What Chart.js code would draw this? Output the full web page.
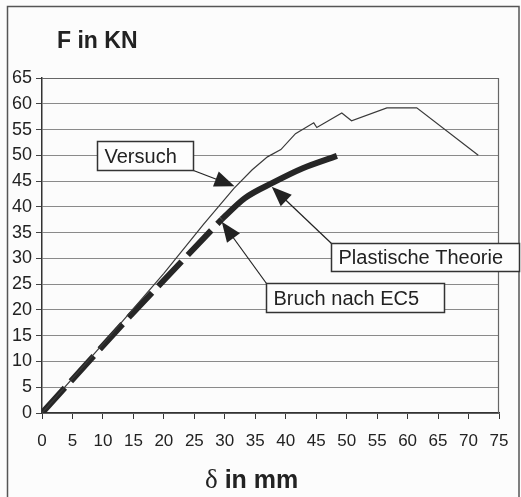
<!DOCTYPE html>
<html lang="de">
  <head>
    <meta charset="UTF-8" />
    <title>F in KN / δ in mm</title>
    <script src="https://cdn.jsdelivr.net/npm/chart.js@4/dist/chart.umd.min.js"></script>
    <style>
      html, body { margin: 0; padding: 0; background: #fcfcfc; }
      #wrap { width: 521px; height: 497px; }
    </style>
  </head>
  <body>
    <div id="wrap"><canvas id="chart" width="521" height="497"></canvas></div>

    <script>
      // Versuch (test curve), thin line
      const versuchX = [0, 10, 20, 26.5, 31.5, 34.5, 37, 39.2, 41.6, 44.6, 45.1, 49.2, 50.8, 56.6, 61.5, 71.6];
      const versuchY = [0, 13.4, 27.1, 36.6, 43.6, 47.2, 49.7, 51.1, 54.2, 56.3, 55.4, 58.2, 56.7, 59.2, 59.2, 50];

      // Plastische Theorie, thick line
      const plastX = [29.5, 33.3, 37.9, 42.8, 48.4];
      const plastY = [37.6, 41.7, 44.7, 47.5, 49.9];

      // Bruch nach EC5, thick dashed line
      const ec5X = [0, 14.5, 29.5];
      const ec5Y = [0, 18.9, 37.6];

      const xTicks = [0, 5, 10, 15, 20, 25, 30, 35, 40, 45, 50, 55, 60, 65, 70, 75];
      const yTicks = [0, 5, 10, 15, 20, 25, 30, 35, 40, 45, 50, 55, 60, 65];

      // text boxes: anchor (box top-left) and arrow tip in data units
      const labels = [
        { text: 'Versuch', box: [9.1, 52.8], w: 96, h: 29, from: 'br', tip: [31.6, 44.0] },
        { text: 'Plastische Theorie', box: [47.4, 33.0], w: 188, h: 28, from: 'tl', tip: [37.7, 43.9] },
        { text: 'Bruch nach EC5', box: [36.8, 25.2], w: 178, h: 29, from: 'tl', tip: [29.5, 37.1] }
      ];

      function pts(xs, ys) {
        return xs.map((x, i) => ({ x: x, y: ys[i] }));
      }

      const SANS = '"Liberation Sans", Arial, sans-serif';

      function arrow(ctx, x0, y0, x1, y1) {
        const a = Math.atan2(y1 - y0, x1 - x0);
        const len = 20, half = 8;
        ctx.beginPath();
        ctx.moveTo(x0, y0);
        ctx.lineTo(x1 - Math.cos(a) * len * 0.8, y1 - Math.sin(a) * len * 0.8);
        ctx.stroke();
        ctx.beginPath();
        ctx.moveTo(x1, y1);
        ctx.lineTo(x1 - Math.cos(a) * len + Math.sin(a) * half, y1 - Math.sin(a) * len - Math.cos(a) * half);
        ctx.lineTo(x1 - Math.cos(a) * len - Math.sin(a) * half, y1 - Math.sin(a) * len + Math.cos(a) * half);
        ctx.closePath();
        ctx.fill();
      }

      const decorations = {
        id: 'decorations',
        beforeDraw(chart) {
          const ctx = chart.ctx;
          ctx.save();
          ctx.fillStyle = '#fcfcfc';
          ctx.fillRect(0, 0, chart.width, chart.height);
          // outer frame
          ctx.strokeStyle = '#555';
          ctx.lineWidth = 1.5;
          ctx.beginPath();
          ctx.moveTo(7.5, 497);
          ctx.lineTo(7.5, 6.5);
          ctx.lineTo(519, 6.5);
          ctx.lineTo(519, 497);
          ctx.stroke();
          ctx.restore();
        },
        beforeDatasetsDraw(chart) {
          const ctx = chart.ctx, a = chart.chartArea;
          ctx.save();
          ctx.strokeStyle = '#666';
          ctx.lineWidth = 1.2;
          ctx.beginPath();
          ctx.moveTo(a.left, a.top + 0.5);
          ctx.lineTo(a.right - 0.5, a.top + 0.5);
          ctx.lineTo(a.right - 0.5, a.bottom);
          ctx.stroke();
          ctx.restore();
        },
        afterDraw(chart) {
          const ctx = chart.ctx;
          const xs = chart.scales.x, ys = chart.scales.y;
          ctx.save();
          // axis titles
          ctx.fillStyle = '#222';
          ctx.textBaseline = 'alphabetic';
          ctx.textAlign = 'left';
          ctx.font = 'bold 23px ' + SANS;
          ctx.fillText('F in KN', 57, 48);
          ctx.font = '27px "Liberation Serif", "DejaVu Serif", serif';
          ctx.fillText('δ', 205, 488);
          const dw = ctx.measureText('δ').width;
          ctx.font = 'bold 25px ' + SANS;
          ctx.fillText(' in mm', 205 + dw, 488);

          // labelled boxes with arrows
          labels.forEach(l => {
            const bx = Math.round(xs.getPixelForValue(l.box[0])) + 0.5;
            const by = Math.round(ys.getPixelForValue(l.box[1])) + 0.5;
            const tx = xs.getPixelForValue(l.tip[0]);
            const ty = ys.getPixelForValue(l.tip[1]);
            const sx = l.from === 'br' ? bx + l.w : bx;
            const sy = l.from === 'br' ? by + l.h : by;
            ctx.strokeStyle = '#222';
            ctx.fillStyle = '#222';
            ctx.lineWidth = 1.2;
            arrow(ctx, sx, sy, tx, ty);
            ctx.fillStyle = '#fdfdfd';
            ctx.fillRect(bx, by, l.w, l.h);
            ctx.lineWidth = 1.5;
            ctx.strokeStyle = '#333';
            ctx.strokeRect(bx, by, l.w, l.h);
            ctx.fillStyle = '#222';
            ctx.font = '20px ' + SANS;
            ctx.textAlign = 'left';
            ctx.textBaseline = 'middle';
            ctx.fillText(l.text, bx + 7, by + l.h / 2 + 1);
          });
          ctx.restore();
        }
      };

      const ctx = document.getElementById('chart').getContext('2d');
      new Chart(ctx, {
        type: 'scatter',
        data: {
          datasets: [
            {
              label: 'Versuch',
              data: pts(versuchX, versuchY),
              showLine: true,
              borderColor: '#3a3a3a',
              borderWidth: 1.2,
              pointRadius: 0,
              tension: 0
            },
            {
              label: 'Bruch nach EC5',
              data: pts(ec5X, ec5Y),
              showLine: true,
              borderColor: '#262626',
              borderWidth: 6,
              borderDash: [34, 9],
              borderCapStyle: 'butt',
              pointRadius: 0
            },
            {
              label: 'Plastische Theorie',
              data: pts(plastX, plastY),
              showLine: true,
              borderColor: '#262626',
              borderWidth: 6,
              cubicInterpolationMode: 'monotone',
              borderCapStyle: 'butt',
              pointRadius: 0
            }
          ]
        },
        options: {
          responsive: false,
          animation: false,
          layout: { padding: { left: 0, top: 78, right: 22, bottom: 0 } },
          plugins: {
            legend: { display: false },
            tooltip: { enabled: false }
          },
          scales: {
            x: {
              type: 'linear',
              min: 0,
              max: 75,
              afterBuildTicks: s => { s.ticks = xTicks.map(v => ({ value: v })); },
              afterFit: s => { s.height = 84; },
              ticks: {
                color: '#222',
                font: { family: SANS, size: 17 },
                padding: 12,
                maxRotation: 0,
                autoSkip: false
              },
              grid: { drawOnChartArea: false, tickLength: 6, color: '#333' },
              border: { color: '#333', width: 1.5 }
            },
            y: {
              min: 0,
              max: 65,
              afterBuildTicks: s => { s.ticks = yTicks.map(v => ({ value: v })); },
              afterFit: s => { s.width = 42; },
              ticks: {
                color: '#222',
                font: { family: SANS, size: 18 },
                padding: 4,
                autoSkip: false
              },
              grid: { color: '#8a8a8a', tickColor: '#444', tickLength: 6, lineWidth: 1 },
              border: { color: '#333', width: 1.5 }
            }
          }
        },
        plugins: [decorations]
      });
    </script>
  </body>
</html>
